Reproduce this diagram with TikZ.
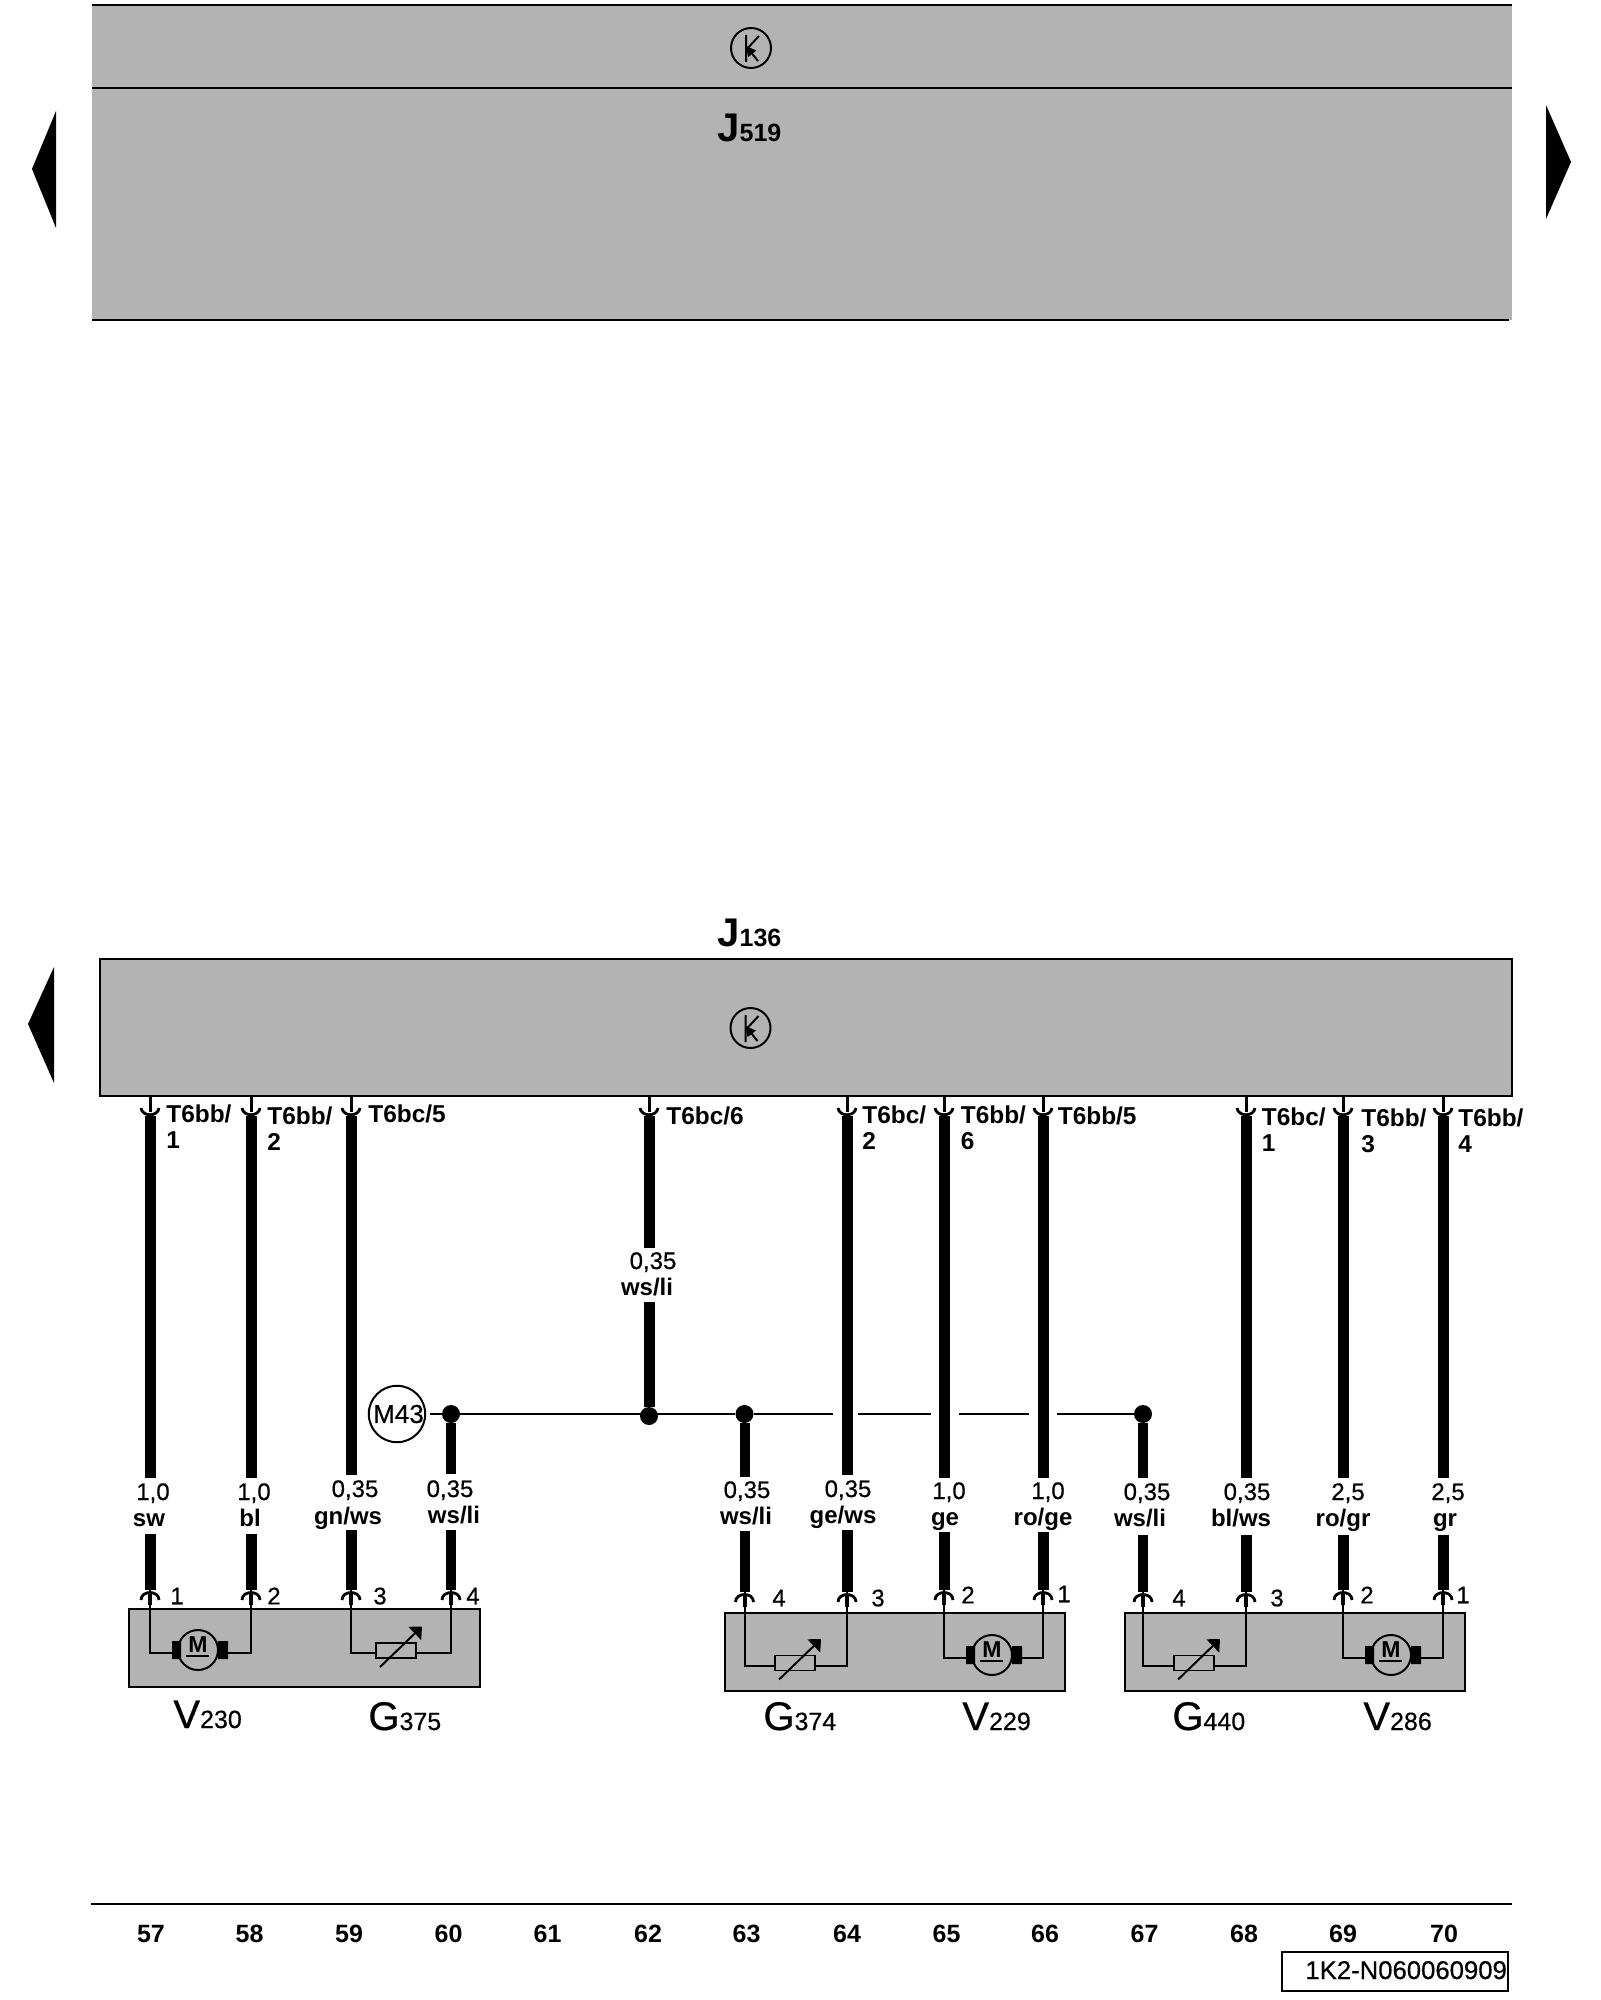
\documentclass[tikz,border=0pt]{standalone}
\usepackage{fontspec}
\setmainfont{Liberation Sans}
\newfontfamily\medfont{Liberation Sans}[FakeBold=0.5]
\usetikzlibrary{arrows.meta}
\definecolor{boxgray}{HTML}{B3B3B3}
\newcommand{\compname}[2]{{\fontsize{20}{20}\selectfont #1}{\fontsize{12.5}{13}\selectfont #2}}
\tikzset{
    frameline/.style={line width=1pt},
    wire/.style={line width=5.5pt},
    lead/.style={line width=1pt},
    bus/.style={line width=1pt},
    graybox/.style={draw,fill=boxgray,line width=1pt,inner sep=0,outer sep=0},
    dot/.style={circle,fill=black,inner sep=0,minimum size=9pt},
    pinlabel/.style={font=\fontsize{12.2}{13}\selectfont\bfseries,anchor=base west,align=left,inner sep=0},
    gaugelabel/.style={font=\medfont\fontsize{12}{13}\selectfont,anchor=base,inner sep=0},
    colorlabel/.style={font=\fontsize{12}{13}\selectfont\bfseries,anchor=base,inner sep=0},
    tracklabel/.style={font=\fontsize{12.5}{13}\selectfont\bfseries,anchor=center,inner sep=0},
    partlabel/.style={font=\medfont,anchor=base west,inner sep=0},
    unitlabel/.style={font=\bfseries,anchor=base west,inner sep=0},
    topplug/.pic={
        \draw[line width=1.5pt] (0,0) -- (0,16);
        \draw[line width=1.4pt] (-9,12) .. controls (-8,21) and (8,21) .. (9,12);
    },
    botplug/.pic={
        \draw[line width=1.4pt] (-9,10) .. controls (-9,0) and (9,0) .. (9,10);
        \draw[line width=2pt] (0,3) -- (0,15);
    },
    motor/.pic={
        \fill (-26,-9) rectangle (-17,9) (20,-9) rectangle (30,9);
        \draw[line width=1pt] (0,0) circle (20);
        \node[font=\fontsize{11.5}{12}\selectfont\bfseries,inner sep=0] (-m) at (0,-5) {M};
        \draw[line width=.8pt] (-12,6) -- (11,6);
        \coordinate (-l) at (-26,3);
        \coordinate (-r) at (30,3);
    },
    resistor/.pic={
        \draw[line width=.8pt] (-20,-7.5) rectangle (20,7.5);
        \draw[line width=1pt,-{Triangle[length=5pt,width=9pt]}] (-16,16.5) -- (26,-24);
        \coordinate (-l) at (-20,2.5);
        \coordinate (-r) at (20,2.5);
    },
    ctrlsym/.pic={
        \draw[line width=1pt] (0,0) circle (20);
        \draw[line width=1pt] (-5,-13) -- (-5,14) (-5,2) -- (8,-12);
        \draw[line width=1pt,-{Triangle[length=5pt,width=5pt]}] (7,13) -- (-5,-2);
    },
}
\begin{document}
\begin{tikzpicture}[x=.5pt,y=-.5pt]
        \useasboundingbox (0,0) rectangle (1600,2000);
        \fill[boxgray] (92,5) rectangle (1512,320);
        \draw[frameline] (92,5) -- (1512,5) (92,88) -- (1512,88) (92,320) -- (1509,320);
        \pic at (751,48) {ctrlsym};
        \node[unitlabel] (j519) at (717,142) {\compname{J}{519}};
        \fill (56,111) -- (56,228) -- (32,169) -- cycle;
        \fill (1546,105) -- (1546,219) -- (1571,162) -- cycle;
        \fill (54,967) -- (54,1083) -- (28,1024) -- cycle;

        \node[graybox,minimum width=705.75pt,minimum height=68.5pt] (j136box) at (805.75,1027.5) {};
        \pic at (750.5,1028) {ctrlsym};
        \node[unitlabel] (j136) at (717,946) {\compname{J}{136}};

        \node[graybox,minimum width=175.5pt,minimum height=39pt] (boxa) at (304.5,1648) {};
        \node[graybox,minimum width=170pt,minimum height=39pt] (boxb) at (895,1652) {};
        \node[graybox,minimum width=169.75pt,minimum height=39pt] (boxc) at (1294.75,1652) {};

        \foreach \w/\x/\ya/\yb/\yp in {a/150/1478/1534/1590,b/251/1478/1534/1590,c/351/1475/1530/1590,
            f/847/1475/1530/1592,g/944/1478/1532/1590,h/1043/1478/1532/1590,
            j/1246/1478/1535/1592,k/1343/1478/1535/1590,l/1443/1478/1535/1590}{
            \coordinate (\w top) at (\x,1116);
            \coordinate (\w gapa) at (\x,\ya);
            \coordinate (\w gapb) at (\x,\yb);
            \coordinate (\w end) at (\x,\yp);
            \draw[wire] (\w top) -- (\w gapa) (\w gapb) -- (\w end);
            \pic at (\x,1096) {topplug};
            \pic at (\x,\yp) {botplug};
        }

        \node[circle,draw,line width=1pt,inner sep=0,minimum size=28pt,font=\medfont\fontsize{13}{13}\selectfont] (m43) at (397,1414) {\hspace*{1.5pt}M43};
        \node[dot] (dotd) at (451,1414) {};
        \node[dot] (dote) at (649,1416) {};
        \node[dot] (dotm) at (744.5,1414) {};
        \node[dot] (doti) at (1143,1414) {};
        \coordinate (busa) at (833,1414);
        \coordinate (busb) at (858,1414);
        \coordinate (busc) at (931,1414);
        \coordinate (busd) at (959,1414);
        \coordinate (buse) at (1029,1414);
        \coordinate (busf) at (1057,1414);
        \draw[bus,shorten <=2pt] (m43) -- (dotd);
        \draw[bus] (dotd) -- (dotm);
        \draw[bus] (dotm) -- (busa) (busb) -- (busc) (busd) -- (buse) (busf) -- (doti);

        \coordinate (etop) at (649,1116);
        \coordinate (egapa) at (649,1248);
        \coordinate (egapb) at (649,1302);
        \pic at (649,1096) {topplug};
        \draw[wire] (etop) -- (egapa) (egapb) -- (dote);
        \foreach \w/\x/\ya/\yb/\yp in {d/451/1474/1530/1590,m/744.5/1477/1531/1592,i/1143/1478/1535/1592}{
            \coordinate (\w gapa) at (\x,\ya);
            \coordinate (\w gapb) at (\x,\yb);
            \coordinate (\w end) at (\x,\yp);
            \draw[wire,line width=5pt] (dot\w) -- (\w gapa) (\w gapb) -- (\w end);
            \pic at (\x,\yp) {botplug};
        }

        \pic (mota) at (198,1650) {motor};
        \pic (resa) at (396,1650.5) {resistor};
        \pic (resb) at (795,1663) {resistor};
        \pic (motb) at (992,1655) {motor};
        \pic (resc) at (1194,1663) {resistor};
        \pic (motc) at (1391,1655) {motor};
        \draw[lead] (aend) |- (mota-l) (bend) |- (mota-r);
        \draw[lead] (cend) |- (resa-l) (dend) |- (resa-r);
        \draw[lead] (mend) |- (resb-l) (fend) |- (resb-r);
        \draw[lead] (gend) |- (motb-l) (hend) |- (motb-r);
        \draw[lead] (iend) |- (resc-l) (jend) |- (resc-r);
        \draw[lead] (kend) |- (motc-l) (lend) |- (motc-r);

        \foreach \n/\x/\y/\t in {pa/166/1148/{T6bb/\\1},pb/267/1150/{T6bb/\\2},pc/368/1122/{T6bc/5},
            pe/666/1124/{T6bc/6},pf/862/1149/{T6bc/\\2},pg/960.5/1149/{T6bb/\\6},ph/1057.5/1124/{T6bb/5},
            pj/1261.5/1151/{T6bc/\\1},pk/1361/1152/{T6bb/\\3},pl/1458/1152/{T6bb/\\4}}{
            \node[pinlabel] (\n) at (\x,\y) {\t};
        }

        \foreach \n/\x/\y/\t in {a/153/1500/{1,0},b/254/1500/{1,0},c/355/1497/{0,35},d/450/1497/{0,35},
            e/653/1269/{0,35},m/747/1498/{0,35},f/848/1497/{0,35},g/949/1499/{1,0},h/1048/1499/{1,0},
            i/1147/1500/{0,35},j/1247/1500/{0,35},k/1348/1500/{2,5},l/1448/1500/{2,5}}{
            \node[gaugelabel] (gauge\n) at (\x,\y) {\t};
        }
        \foreach \n/\x/\y/\t in {a/149/1526/{sw},b/250/1526/{bl},c/348/1524/{gn/ws},d/454/1523/{ws/li},
            e/647/1295/{ws/li},m/746/1524/{ws/li},f/843/1523/{ge/ws},g/945/1525/{ge},h/1043/1525/{ro/ge},
            i/1140/1526/{ws/li},j/1241/1526/{bl/ws},k/1343/1526/{ro/gr},l/1445/1526/{gr}}{
            \node[colorlabel] (color\n) at (\x,\y) {\t};
        }

        \foreach \n/\x/\y/\t in {a/177/1596/1,b/274/1596/2,c/380/1596/3,d/473/1596/4,
            e/779/1598/4,f/878/1598/3,g/968/1595/2,h/1064/1594/1,
            i/1179/1598/4,j/1277/1598/3,k/1367/1595/2,l/1463/1595/1}{
            \node[font=\medfont\fontsize{12}{13}\selectfont,inner sep=0] (num\n) at (\x,\y) {\t};
        }

        \node[partlabel] (v230) at (173,1728) {\compname{V}{230}};
        \node[partlabel] (g375) at (368,1730) {\compname{G}{375}};
        \node[partlabel] (g374) at (763,1730) {\compname{G}{374}};
        \node[partlabel] (v229) at (962,1730) {\compname{V}{229}};
        \node[partlabel] (g440) at (1172,1730) {\compname{G}{440}};
        \node[partlabel] (v286) at (1363,1730) {\compname{V}{286}};

        \coordinate (rulea) at (91,1904);
        \coordinate (ruleb) at (1512,1904);
        \draw[frameline] (rulea) -- (ruleb);
        \foreach \t/\x in {57/151,58/249.5,59/349,60/448.5,61/547.5,62/648,63/746.5,64/847,65/946.5,66/1045,67/1144.5,68/1244,69/1343,70/1444}{
            \node[tracklabel] (track\t) at (\x,1934) {\t};
        }
        \node[draw,line width=1pt,inner sep=0,outer sep=0,minimum width=113pt,minimum height=19.5pt] (codebox) at (1395,1971.5) {};
        \node[partlabel,font=\medfont\fontsize{12.85}{13}\selectfont] (code) at (1305,1979) {1K2-N060060909};
\end{tikzpicture}
\end{document}
